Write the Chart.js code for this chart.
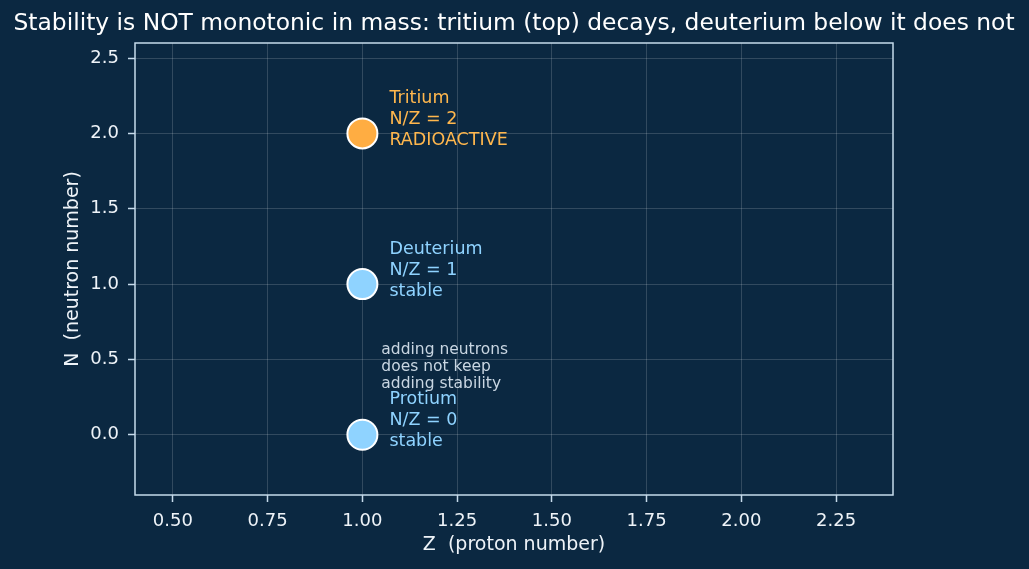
<!DOCTYPE html>
<html>
<head>
<meta charset="utf-8">
<script src="https://cdn.jsdelivr.net/npm/chart.js@4.4.1/dist/chart.umd.min.js"></script>
<style>
  html, body { margin: 0; padding: 0; background: #0b2841; }
  #wrap { width: 1029px; height: 569px; position: relative; }
</style>
</head>
<body>
<div id="wrap"><canvas id="c"></canvas></div>
<script>
// isotopes of hydrogen: Z protons, N neutrons
const isotopes = ['Tritium', 'Deuterium', 'Protium'];
const zValues = [1, 1, 1];
const nValues = [2, 1, 0];
const ratioLabels = ['N/Z = 2', 'N/Z = 1', 'N/Z = 0'];
const statusLabels = ['RADIOACTIVE', 'stable', 'stable'];
const pointColors = ['#ffad42', '#8fd3ff', '#8fd3ff'];
const textColors = ['#ffb74d', '#8fd3ff', '#8fd3ff'];

const xTicks = [0.5, 0.75, 1.0, 1.25, 1.5, 1.75, 2.0, 2.25];
const yTicks = [0.0, 0.5, 1.0, 1.5, 2.0, 2.5];

const noteLines = ['adding neutrons', 'does not keep', 'adding stability'];
const notePos = { x: 1.05, y: 0.45 };

const FONT = 'DejaVu Sans, sans-serif';
const FRAME = '#c6dbeb';
const GRID = 'rgba(255,255,255,0.16)';

const chartDecor = {
  id: 'chartDecor',
  afterDraw(chart) {
    const { ctx, chartArea: a, scales } = chart;
    ctx.save();
    // frame
    ctx.strokeStyle = FRAME;
    ctx.lineWidth = 1.5;
    ctx.strokeRect(a.left, a.top, a.right - a.left, a.bottom - a.top);

    // title
    ctx.fillStyle = '#ffffff';
    ctx.font = '23.4px ' + FONT;
    ctx.textAlign = 'center';
    ctx.textBaseline = 'middle';
    ctx.fillText('Stability is NOT monotonic in mass: tritium (top) decays, deuterium below it does not', 514, 24);

    // isotope labels
    ctx.font = '17.5px ' + FONT;
    ctx.textAlign = 'left';
    isotopes.forEach((name, i) => {
      const px = scales.x.getPixelForValue(zValues[i]) + 27;
      const py = scales.y.getPixelForValue(nValues[i]) - 14;
      ctx.fillStyle = textColors[i];
      [name, ratioLabels[i], statusLabels[i]].forEach((t, k) => {
        ctx.fillText(t, px, py + (k - 1) * 21);
      });
    });

    // note
    ctx.font = '15.5px ' + FONT;
    ctx.fillStyle = '#c9d6e2';
    const nx = scales.x.getPixelForValue(notePos.x);
    const ny = scales.y.getPixelForValue(notePos.y);
    noteLines.forEach((t, k) => ctx.fillText(t, nx, ny + (k - 1) * 17));
    ctx.restore();
  }
};

new Chart(document.getElementById('c'), {
  type: 'scatter',
  data: {
    datasets: [{
      data: zValues.map((z, i) => ({ x: z, y: nValues[i] })),
      pointBackgroundColor: pointColors,
      pointBorderColor: '#ffffff',
      pointBorderWidth: 2,
      pointRadius: 15,
      pointHoverRadius: 15
    }]
  },
  options: {
    responsive: true,
    maintainAspectRatio: false,
    animation: false,
    layout: { padding: { left: 0, right: 136, top: 43, bottom: 0 } },
    plugins: { legend: { display: false }, tooltip: { enabled: false }, title: { display: false } },
    scales: {
      x: {
        type: 'linear', min: 0.4, max: 2.4,
        afterFit: s => { s.height = 74; },
        afterBuildTicks: s => { s.ticks = xTicks.map(v => ({ value: v })); },
        grid: { color: GRID, lineWidth: 1, tickColor: FRAME, tickLength: 7, tickWidth: 1.5 },
        border: { display: false },
        ticks: { color: '#eef3f8', font: { family: FONT, size: 18 }, padding: 9,
                 callback: v => v.toFixed(2) },
        title: { display: true, text: 'Z  (proton number)', color: '#eef3f8',
                 font: { family: FONT, size: 19 }, padding: { top: 13, bottom: 13 } }
      },
      y: {
        type: 'linear', min: -0.4, max: 2.6,
        afterFit: s => { s.width = 135; },
        afterBuildTicks: s => { s.ticks = yTicks.map(v => ({ value: v })); },
        grid: { color: GRID, lineWidth: 1, tickColor: FRAME, tickLength: 7, tickWidth: 1.5 },
        border: { display: false },
        ticks: { color: '#eef3f8', font: { family: FONT, size: 18 }, padding: 9,
                 callback: v => v.toFixed(1) },
        title: { display: true, text: 'N  (neutron number)', color: '#eef3f8',
                 font: { family: FONT, size: 19 }, padding: { top: 62, bottom: 0 } }
      }
    }
  },
  plugins: [chartDecor]
});
</script>
</body>
</html>
